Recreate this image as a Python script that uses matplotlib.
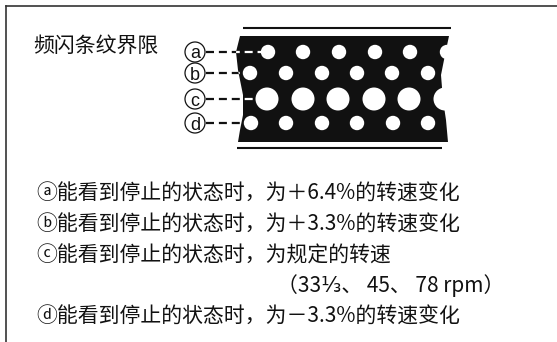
import matplotlib
matplotlib.use("Agg")
import matplotlib.pyplot as plt
from matplotlib.patches import Polygon, Circle

plt.rcParams['font.family'] = ['Noto Sans CJK SC', 'DejaVu Sans']

# --- dados do diagrama (coordenadas em pixels da figura) ---
titulo = "频闪条纹界限"
rotulos = ["a", "b", "c", "d"]
linhas_y = [52, 73, 99, 123]
furos_x = [
    [268, 303, 339, 375, 410, 447],
    [250, 286, 322, 357, 392, 428],
    [267, 303, 338, 374, 409, 445],
    [251, 286, 322, 357, 393, 428],
]
furos_r = [7.2, 7.2, 11.5, 7.2]

# contorno da faixa preta
borda_esq = [(240, 36), (236, 52), (238, 70), (243, 95), (243, 115), (240, 130), (238, 142)]
borda_dir = [(449, 36), (445, 55), (441, 75), (443, 100), (446, 120), (448, 142)]

textos = [
    "ⓐ能看到停止的状态时，为＋6.4%的转速变化",
    "ⓑ能看到停止的状态时，为＋3.3%的转速变化",
    "ⓒ能看到停止的状态时，为规定的转速",
    "（33⅓、 45、 78 rpm）",
    "ⓓ能看到停止的状态时，为－3.3%的转速变化",
]
textos_x = [36, 36, 36, 277, 36]
textos_y = [194, 225, 256, 286, 317]

W, H = 557, 342
fig = plt.figure(figsize=(W / 100, H / 100), dpi=100)
ax = fig.add_axes([0, 0, 1, 1])
ax.set_xlim(0, W)
ax.set_ylim(H, 0)
ax.axis('off')

# moldura (so topo e lado esquerdo)
ax.plot([6, W], [6, 6], color='#333333', lw=1.2)
ax.plot([6, 6], [6, H], color='#333333', lw=1.2)

ax.text(33, 46, titulo, fontsize=15, va='center', ha='left', color='#111111',
        fontweight='medium')

# linhas acima e abaixo da faixa
ax.plot([243, 451], [27.5, 27.5], color='#111111', lw=1.5, solid_capstyle='butt')
ax.plot([237, 442], [148, 148], color='#111111', lw=1.5, solid_capstyle='butt')

faixa = Polygon(borda_esq + borda_dir[::-1], closed=True, facecolor='#111111',
                edgecolor='none')
ax.add_patch(faixa)

for i, y in enumerate(linhas_y):
    for x in furos_x[i]:
        ax.add_patch(Circle((x, y), furos_r[i], facecolor='white', edgecolor='none'))
    fim = furos_x[i][0] - furos_r[i]
    ax.plot([206, fim], [y, y], color='#111111', lw=1.6, dashes=(3.6, 2.2))
    l_branca, = ax.plot([206, fim], [y, y], color='white', lw=1.6, dashes=(3.6, 2.2))
    l_branca.set_clip_path(faixa)
    # rotulo circulado: circulo + letra
    ax.add_patch(Circle((195, y), 10, facecolor='white', edgecolor='#111111', lw=0.9))
    ax.text(195, y, rotulos[i], fontsize=13, ha='center', va='center_baseline',
            color='#111111', family='Liberation Sans')

for t, x, y in zip(textos, textos_x, textos_y):
    ax.text(x, y, t, fontsize=15, ha='left', va='center', color='#111111',
            fontweight='medium')

fig.savefig("out.png", dpi=100)
